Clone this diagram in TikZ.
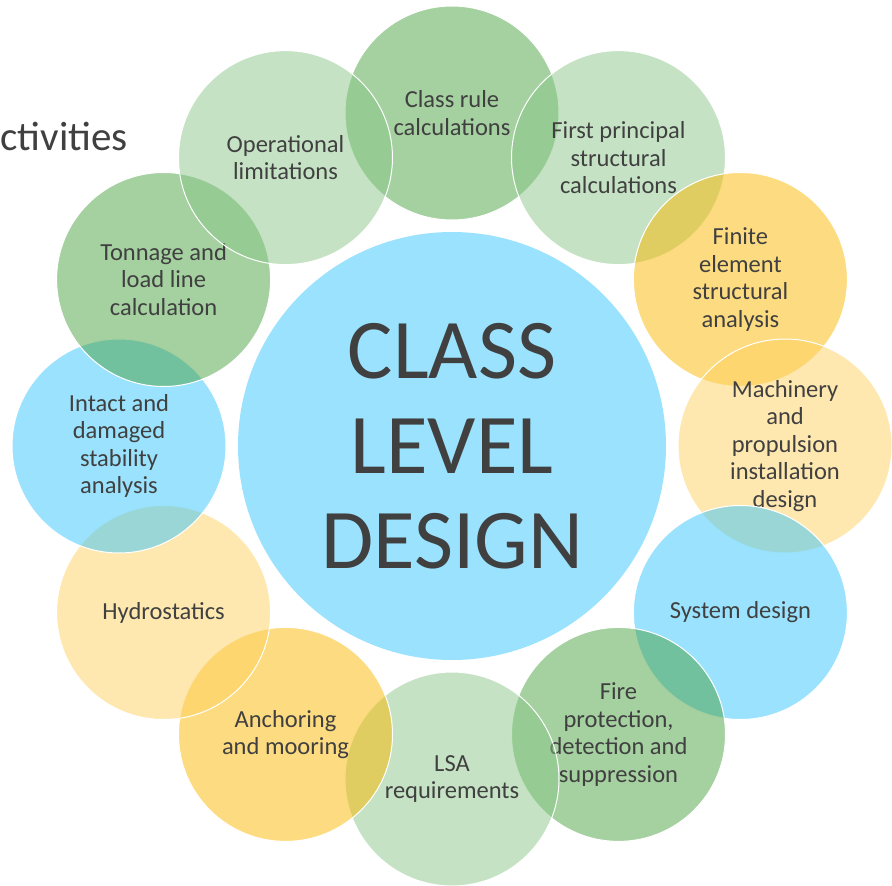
\documentclass[tikz,border=0pt]{standalone}
\usepackage{fontspec}
\setmainfont{Carlito}
\usepackage{tikz}

\definecolor{greenA}{RGB}{75,161,65}
\definecolor{greenB}{RGB}{139,199,137}
\definecolor{goldA}{RGB}{251,183,1}
\definecolor{goldB}{RGB}{253,209,97}
\definecolor{skyA}{RGB}{53,197,251}
\definecolor{txtgray}{RGB}{64,64,64}

\begin{document}
\begin{tikzpicture}[x=1pt,y=-1pt]
		\useasboundingbox (0,0) rectangle (892,886);
		\node[anchor=base west,text=txtgray,font=\fontsize{41}{48}\selectfont] (title) at (-3,150) {ctivities};

		% centre
		\node[circle,fill=skyA,fill opacity=0.5,text opacity=1,minimum size=428pt,inner sep=0pt,
		      align=center,text=txtgray,font=\fontsize{85}{95}\selectfont] (hub) at (452,446) {CLASS\\LEVEL\\DESIGN};

		% ring, clockwise from the top
		\begin{scope}[every node/.style={circle,draw=white,line width=1pt,fill opacity=0.5,text opacity=1,
		              minimum size=214pt,inner sep=0pt,align=center,text=txtgray,
		              font=\fontsize{24.5}{27.5}\selectfont}]
			\node[fill=greenA] (1) at (452,113) {Class rule\\calculations};
			\node[fill=greenB] (2) at (618.5,157.6) {First principal\\structural\\calculations};
			\node[fill=goldA] (3) at (740.4,279.5) {Finite\\element\\structural\\analysis};
			\node[fill=goldB] (4) at (785,446) {Machinery\\and\\propulsion\\installation\\design};
			\node[fill=skyA] (5) at (740.4,612.5) {System design};
			\node[fill=greenA] (6) at (618.5,734.4) {Fire\\protection,\\detection and\\suppression};
			\node[fill=greenB] (7) at (452,779) {LSA\\requirements};
			\node[fill=goldA] (8) at (285.5,734.4) {Anchoring\\and mooring};
			\node[fill=goldB] (9) at (163.6,612.5) {Hydrostatics};
			\node[fill=skyA] (10) at (119,446) {Intact and\\damaged\\stability\\analysis};
			\node[fill=greenA] (11) at (163.6,279.5) {Tonnage and\\load line\\calculation};
			\node[fill=greenB] (12) at (285.5,157.6) {Operational\\limitations};
		\end{scope}
\end{tikzpicture}
\end{document}
